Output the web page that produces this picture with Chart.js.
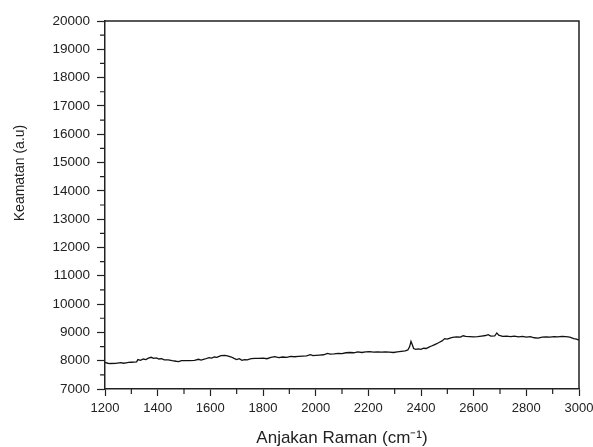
<!DOCTYPE html>
<html>
<head>
<meta charset="utf-8">
<script src="https://cdn.jsdelivr.net/npm/chart.js@4.4.1/dist/chart.umd.min.js"></script>
<style>
  html, body { margin: 0; padding: 0; background: #fff; }
  #chart { display: block; }
</style>
</head>
<body>
<canvas id="chart" width="593" height="447"></canvas>
<script>
// spektrum Raman: anjakan (cm-1) dan keamatan (a.u)
const shifts = [
  1200, 1210, 1220, 1240, 1260, 1270, 1280, 1290, 1300, 1310, 1320, 1325, 1335, 1345, 1355,
  1365, 1375, 1385, 1395, 1405, 1415, 1425, 1440, 1455, 1470, 1480, 1490, 1505, 1520, 1540,
  1555, 1565, 1580, 1595, 1605, 1615, 1625, 1640, 1655, 1665, 1680, 1690, 1700, 1710, 1720,
  1730, 1740, 1755, 1770, 1785, 1800, 1815, 1830, 1845, 1860, 1875, 1890, 1905, 1920, 1935,
  1950, 1965, 1980, 1990, 2000, 2015, 2030, 2045, 2055, 2070, 2085, 2100, 2115, 2130, 2145,
  2160, 2175, 2190, 2205, 2220, 2235, 2250, 2265, 2280, 2295, 2310, 2325, 2340, 2350, 2357,
  2362, 2367, 2372, 2380, 2390, 2400, 2410, 2420, 2430, 2440, 2450, 2460, 2470, 2480, 2490,
  2500, 2510, 2520, 2535, 2550, 2560, 2570, 2585, 2600, 2615, 2630, 2645, 2655, 2665, 2680,
  2688, 2695, 2710, 2725, 2740, 2755, 2770, 2785, 2800, 2815, 2830, 2845, 2860, 2875, 2890,
  2905, 2920, 2935, 2950, 2965, 2980, 2990, 3000
];
const intensity = [
  7940, 7910, 7900, 7905, 7930, 7910, 7925, 7940, 7945, 7950, 7960, 8040, 8010, 8060, 8040,
  8090, 8120, 8080, 8100, 8060, 8070, 8030, 8030, 8000, 7980, 7970, 8000, 8000, 8000, 8010,
  8050, 8020, 8060, 8110, 8090, 8130, 8120, 8180, 8190, 8170, 8130, 8080, 8040, 8070, 8010,
  8040, 8030, 8070, 8080, 8080, 8090, 8070, 8120, 8140, 8110, 8130, 8120, 8150, 8140, 8150,
  8160, 8170, 8210, 8180, 8190, 8200, 8210, 8260, 8230, 8240, 8260, 8250, 8280, 8290, 8280,
  8310, 8290, 8310, 8320, 8300, 8310, 8300, 8310, 8300, 8290, 8310, 8330, 8350, 8380, 8500,
  8680, 8560, 8430, 8400, 8420, 8400, 8440, 8430, 8480, 8520, 8560, 8600, 8650, 8700, 8780,
  8760, 8800, 8820, 8840, 8830, 8880, 8860, 8850, 8840, 8850, 8870, 8890, 8920, 8870, 8880,
  8980, 8900, 8860, 8870, 8850, 8870, 8840, 8860, 8830, 8850, 8810, 8800, 8830, 8840, 8830,
  8850, 8840, 8860, 8850, 8830, 8780, 8760, 8730
];

const xMin = 1200, xMax = 3000, xStep = 200;
const yMin = 7000, yMax = 20000, yStep = 1000;

const ink = '#222';
const fontFamily = '"Liberation Sans", Arial, sans-serif';

// bingkai atas/kanan, tik kecil dan tajuk paksi-y
const framePlugin = {
  id: 'frame',
  afterDraw(chart) {
    const { ctx, chartArea: a, scales } = chart;
    ctx.save();
    ctx.strokeStyle = ink;
    ctx.lineWidth = 1.5;
    ctx.beginPath();
    ctx.moveTo(a.left, a.top);
    ctx.lineTo(a.right, a.top);
    ctx.lineTo(a.right, a.bottom);
    ctx.stroke();

    // tik kecil
    ctx.lineWidth = 1.2;
    ctx.beginPath();
    for (let v = xMin + xStep / 2; v < xMax; v += xStep) {
      const px = scales.x.getPixelForValue(v);
      ctx.moveTo(px, a.bottom);
      ctx.lineTo(px, a.bottom + 5);
    }
    for (let v = yMin + yStep / 2; v < yMax; v += yStep) {
      const py = scales.y.getPixelForValue(v);
      ctx.moveTo(a.left - 5, py);
      ctx.lineTo(a.left, py);
    }
    ctx.stroke();

    ctx.translate(20, 173);
    ctx.rotate(-Math.PI / 2);
    ctx.fillStyle = ink;
    ctx.font = '14px ' + fontFamily;
    ctx.textAlign = 'center';
    ctx.textBaseline = 'middle';
    ctx.fillText('Keamatan (a.u)', 0, 0);
    ctx.restore();
  }
};

new Chart(document.getElementById('chart'), {
  type: 'line',
  data: {
    datasets: [{
      data: shifts.map((s, i) => ({ x: s, y: intensity[i] })),
      borderColor: '#111',
      borderWidth: 1.3,
      pointRadius: 0,
      tension: 0,
      fill: false
    }]
  },
  options: {
    responsive: false,
    animation: false,
    layout: { padding: { top: 21, right: 14, left: 0, bottom: 0 } },
    plugins: { legend: { display: false }, tooltip: { enabled: false } },
    scales: {
      x: {
        type: 'linear',
        min: xMin,
        max: xMax,
        afterFit(s) {
          s.height = 58;
          s.paddingLeft = 0;
          s.paddingRight = 0;
        },
        border: { display: true, color: ink, width: 1.5 },
        grid: { drawOnChartArea: false, drawTicks: true, tickLength: 7, tickColor: ink, tickWidth: 1.2 },
        ticks: {
          stepSize: xStep,
          autoSkip: false,
          maxRotation: 0,
          padding: 5,
          color: ink,
          font: { family: fontFamily, size: 13 },
          callback: v => String(v)
        },
        title: {
          display: true,
          text: 'Anjakan Raman (cm⁻¹)',
          color: ink,
          padding: 0,
          font: { family: fontFamily, size: 17, lineHeight: 1 }
        }
      },
      y: {
        type: 'linear',
        min: yMin,
        max: yMax,
        afterFit(s) {
          s.width = 105;
          s.paddingTop = 0;
          s.paddingBottom = 0;
        },
        border: { display: true, color: ink, width: 1.5 },
        grid: { drawOnChartArea: false, drawTicks: true, tickLength: 8, tickColor: ink, tickWidth: 1.2 },
        ticks: {
          stepSize: yStep,
          autoSkip: false,
          padding: 7,
          color: ink,
          font: { family: fontFamily, size: 13.5 },
          callback: v => String(v)
        }
      }
    }
  },
  plugins: [framePlugin]
});
</script>
</body>
</html>
